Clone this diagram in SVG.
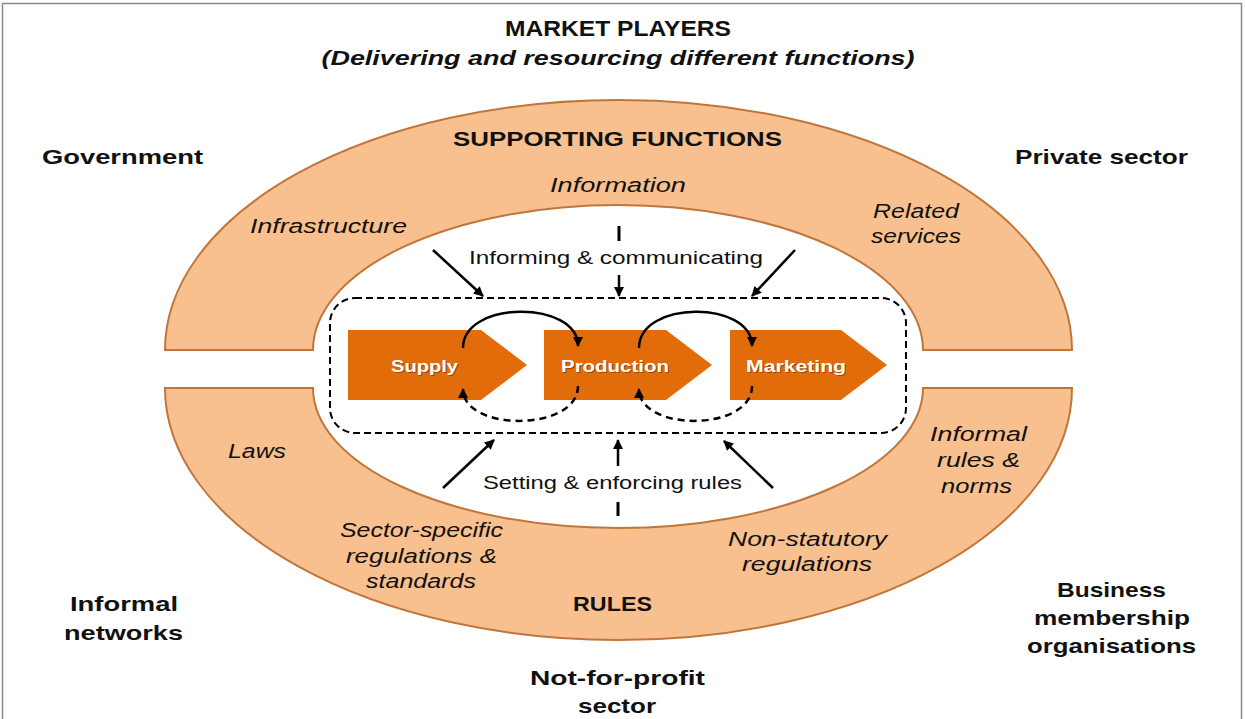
<svg xmlns="http://www.w3.org/2000/svg" width="1245" height="719" viewBox="0 0 1245 719">
<defs>
<style>
.ring{fill:#F9C08F;stroke:#C0763A;stroke-width:2}
.chev{fill:#E36C0A}
.b{font-family:"Liberation Sans",Arial,sans-serif;font-weight:bold;fill:#111;text-anchor:middle}
.i{font-family:"Liberation Sans",Arial,sans-serif;font-style:italic;fill:#111;text-anchor:middle;font-size:20px}
.r{font-family:"Liberation Sans",Arial,sans-serif;fill:#111;text-anchor:middle;font-size:18px}
.w{font-family:"Liberation Sans",Arial,sans-serif;font-weight:bold;fill:#fff;text-anchor:middle;font-size:16px}
.ws{font-family:"Liberation Sans",Arial,sans-serif;font-weight:bold;fill:#6b3000;text-anchor:middle;font-size:16px;opacity:0.6}
.arr{fill:none;stroke:#000;stroke-width:2.5;marker-end:url(#ah)}
.bar{stroke:#000;stroke-width:3}
.sarc{fill:none;stroke:#000;stroke-width:2.5;marker-end:url(#ah)}
.darc{fill:none;stroke:#000;stroke-width:2.5;stroke-dasharray:7 5;marker-end:url(#ah)}
.box{fill:none;stroke:#000;stroke-width:2;stroke-dasharray:7 4}
</style>
<marker id="ah" viewBox="0 0 10 10" refX="9" refY="5" markerWidth="11" markerHeight="10" markerUnits="userSpaceOnUse" orient="auto"><path d="M0,0 L10,5 L0,10 z" fill="#000"/></marker>
</defs>
<rect x="0" y="0" width="1245" height="719" fill="#fff"/>
<path d="M2.5,730 V3.5 H1241.5 V730" fill="none" stroke="#8a8a8a" stroke-width="1.5"/>

<g id="title">
<text class="b" x="618" y="36" font-size="22" textLength="226" lengthAdjust="spacingAndGlyphs">MARKET PLAYERS</text>
<text class="b" x="618" y="65" font-size="21" font-style="italic" textLength="593" lengthAdjust="spacingAndGlyphs">(Delivering and resourcing different functions)</text>
</g>

<g id="supporting-functions">
<path class="ring" d="M165,350 A453.5,250 0 0 1 1072,350 L923,350 A305,145 0 0 0 313,350 Z"/>
<text class="b" x="617.5" y="146" font-size="21" textLength="329" lengthAdjust="spacingAndGlyphs">SUPPORTING FUNCTIONS</text>
<text class="i" x="618" y="192" textLength="136" lengthAdjust="spacingAndGlyphs">Information</text>
<text class="i" x="328.5" y="233" textLength="157" lengthAdjust="spacingAndGlyphs">Infrastructure</text>
<text class="i" x="916" y="218" textLength="86" lengthAdjust="spacingAndGlyphs">Related</text>
<text class="i" x="916" y="243" textLength="90" lengthAdjust="spacingAndGlyphs">services</text>
</g>

<g id="rules">
<path class="ring" d="M165,388 A453.5,252 0 0 0 1072,388 L923,388 A305,140 0 0 1 313,388 Z"/>
<text class="b" x="612.5" y="611" font-size="20" textLength="79" lengthAdjust="spacingAndGlyphs">RULES</text>
<text class="i" x="257" y="458" textLength="58" lengthAdjust="spacingAndGlyphs">Laws</text>
<text class="i" x="978.5" y="441" textLength="97" lengthAdjust="spacingAndGlyphs">Informal</text>
<text class="i" x="978.5" y="467" textLength="83" lengthAdjust="spacingAndGlyphs">rules &amp;</text>
<text class="i" x="976.5" y="493" textLength="71" lengthAdjust="spacingAndGlyphs">norms</text>
<text class="i" x="421.5" y="537" textLength="163" lengthAdjust="spacingAndGlyphs">Sector-specific</text>
<text class="i" x="421.5" y="563" textLength="151" lengthAdjust="spacingAndGlyphs">regulations &amp;</text>
<text class="i" x="421" y="588" textLength="110" lengthAdjust="spacingAndGlyphs">standards</text>
<text class="i" x="807.5" y="546" textLength="159" lengthAdjust="spacingAndGlyphs">Non-statutory</text>
<text class="i" x="807" y="571" textLength="130" lengthAdjust="spacingAndGlyphs">regulations</text>
</g>

<g id="players">
<text class="b" x="122.5" y="164" font-size="21" textLength="161" lengthAdjust="spacingAndGlyphs">Government</text>
<text class="b" x="1101.5" y="164" font-size="21" textLength="173" lengthAdjust="spacingAndGlyphs">Private sector</text>
<text class="b" x="124" y="611" font-size="21" textLength="108" lengthAdjust="spacingAndGlyphs">Informal</text>
<text class="b" x="123.5" y="640" font-size="21" textLength="119" lengthAdjust="spacingAndGlyphs">networks</text>
<text class="b" x="1111.5" y="597" font-size="21" textLength="109" lengthAdjust="spacingAndGlyphs">Business</text>
<text class="b" x="1112" y="625" font-size="21" textLength="156" lengthAdjust="spacingAndGlyphs">membership</text>
<text class="b" x="1111.5" y="653" font-size="21" textLength="169" lengthAdjust="spacingAndGlyphs">organisations</text>
<text class="b" x="617.5" y="685" font-size="21" textLength="175" lengthAdjust="spacingAndGlyphs">Not-for-profit</text>
<text class="b" x="617" y="713" font-size="21" textLength="78" lengthAdjust="spacingAndGlyphs">sector</text>
</g>

<g id="value-chain">
<rect class="box" x="330" y="298" width="576" height="135" rx="25" ry="25"/>
</g>

<g id="supply">
<path class="chev" d="M348,330 H481 L527,365 L481,400 H348 Z"/>
<text class="ws" x="425.5" y="372.5" textLength="67" lengthAdjust="spacingAndGlyphs">Supply</text>
<text class="w" x="424.5" y="371.5" textLength="67" lengthAdjust="spacingAndGlyphs">Supply</text>
</g>
<g id="production">
<path class="chev" d="M544,330 H666 L712,365 L666,400 H544 Z"/>
<text class="ws" x="616" y="372.5" textLength="108" lengthAdjust="spacingAndGlyphs">Production</text>
<text class="w" x="615" y="371.5" textLength="108" lengthAdjust="spacingAndGlyphs">Production</text>
</g>
<g id="marketing">
<path class="chev" d="M730,330 H841 L887,365 L841,400 H730 Z"/>
<text class="ws" x="797" y="372.5" textLength="100" lengthAdjust="spacingAndGlyphs">Marketing</text>
<text class="w" x="796" y="371.5" textLength="100" lengthAdjust="spacingAndGlyphs">Marketing</text>
</g>

<g id="connectors">
<path class="sarc" d="M463,348 C463,300 578,300 578,346"/>
<path class="sarc" d="M639,348 C639,300 752,300 752,346"/>
<path class="darc" d="M578,386 C578,432 463,432 463,389"/>
<path class="darc" d="M752,386 C752,432 639,432 639,389"/>
<line class="arr" x1="433" y1="250" x2="483" y2="296"/>
<line class="arr" x1="795" y1="250" x2="752" y2="296"/>
<line class="bar" x1="619" y1="226" x2="619" y2="241"/>
<line class="arr" x1="619" y1="275" x2="619" y2="296"/>
<line class="arr" x1="443" y1="488" x2="494" y2="440"/>
<line class="arr" x1="773" y1="488" x2="724" y2="441"/>
<line class="arr" x1="618" y1="466" x2="618" y2="440"/>
<line class="bar" x1="618" y1="502" x2="618" y2="516"/>
<text class="r" x="616" y="264" textLength="294" lengthAdjust="spacingAndGlyphs">Informing &amp; communicating</text>
<text class="r" x="612.5" y="489" textLength="259" lengthAdjust="spacingAndGlyphs">Setting &amp; enforcing rules</text>
</g>
</svg>
